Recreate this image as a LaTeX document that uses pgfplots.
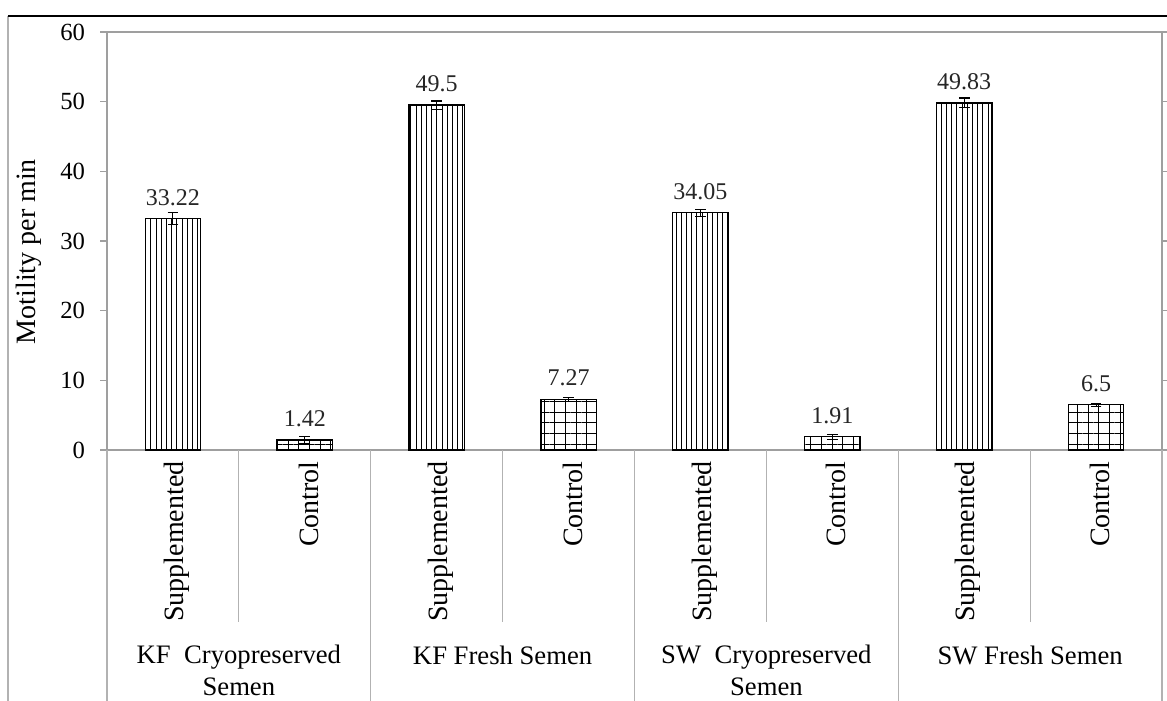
\documentclass[border=0pt]{standalone}
\usepackage{fontspec}
\setmainfont{Liberation Serif}
\usepackage{pgfplots}
\usepackage{pgfplotstable}
\pgfplotsset{compat=1.18}
\usetikzlibrary{patterns.meta}

\pgfplotstableread{
x y err lab
0 33.22 0.9 33.22
2 49.5 0.6 49.5
4 34.05 0.5 34.05
6 49.83 0.7 49.83
}\supp
\pgfplotstableread{
x y err lab
1 1.42 0.5 1.42
3 7.27 0.25 7.27
5 1.91 0.35 1.91
7 6.5 0.2 6.5
}\ctrl

\begin{document}
\begin{tikzpicture}
\path[use as bounding box] (-80.25pt,-187.5pt) rectangle (795pt,337.5pt);
\draw[gray!60, line width=0.8pt] (-74.25pt,-190pt) -- (-74.25pt,325.5pt);
\draw[black, line width=1.5pt] (-74.25pt,325.5pt) -- (800pt,325.5pt);
\begin{axis}[
  scale only axis, width=791.25pt, height=313.5pt,
  xmin=-0.5, xmax=7.5, ymin=0, ymax=60,
  ytick={0,10,...,60},
  xtick={0,...,7},
  xticklabels={Supplemented,Control,Supplemented,Control,Supplemented,Control,Supplemented,Control},
  axis line style={gray!75, line width=0.9pt},
  tick align=outside,
  x tick style={draw=none},
  y tick style={gray!75, line width=0.8pt},
  major tick length=5pt,
  /pgf/number format/assume math mode=true,
  yticklabel style={font=\fontsize{18.5}{20}\selectfont, xshift=-8pt},
  xticklabel style={font=\fontsize{21}{24}\selectfont, rotate=90, anchor=east, yshift=-3pt},
  ylabel={Motility per min},
  ylabel style={font=\fontsize{21}{24}\selectfont, at={(axis description cs:0,0.5)}, anchor=center, yshift=59pt, xshift=-8pt},
  clip=false,
  bar width=0.42,
  nodes near coords,
  point meta=explicit symbolic,
  nodes near coords style={font=\fontsize{18}{20}\selectfont, anchor=south, yshift=6pt, text=black!85},
]
\addplot[ybar, bar shift=0pt, draw=black, line width=1pt,
  pattern={Lines[angle=90, distance=3.9pt, line width=0.6pt]},
  error bars/.cd, y dir=both, y explicit, error mark options={black, line width=0.8pt, mark size=4pt, rotate=90},
  error bar style={black, line width=0.8pt}]
  table[x=x, y=y, y error=err, meta=lab] {\supp};
\addplot[ybar, bar shift=0pt, draw=black, line width=1pt,
  pattern={Hatch[angle=0, distance=8pt, line width=0.7pt]},
  error bars/.cd, y dir=both, y explicit, error mark options={black, line width=0.8pt, mark size=4pt, rotate=90},
  error bar style={black, line width=0.8pt}]
  table[x=x, y=y, y error=err, meta=lab] {\ctrl};
\pgfplotsinvokeforeach{0.5,2.5,4.5,6.5}{
  \draw[gray!60, line width=0.8pt] (axis cs:#1,0) -- ++(0pt,-129pt);
}
\pgfplotsinvokeforeach{-0.5,1.5,3.5,5.5,7.5}{
  \draw[gray!60, line width=0.8pt] (axis cs:#1,0) -- ++(0pt,-190pt);
}
\node[align=center, font=\fontsize{20}{24}\selectfont] at ([yshift=-165.5pt]axis cs:0.5,0) {KF\ \ Cryopreserved\\Semen};
\node[align=center, font=\fontsize{20}{24}\selectfont] at ([yshift=-154pt]axis cs:2.5,0) {KF Fresh Semen};
\node[align=center, font=\fontsize{20}{24}\selectfont] at ([yshift=-165.5pt]axis cs:4.5,0) {SW\ \ Cryopreserved\\Semen};
\node[align=center, font=\fontsize{20}{24}\selectfont] at ([yshift=-154pt]axis cs:6.5,0) {SW Fresh Semen};
\end{axis}
\end{tikzpicture}
\end{document}
